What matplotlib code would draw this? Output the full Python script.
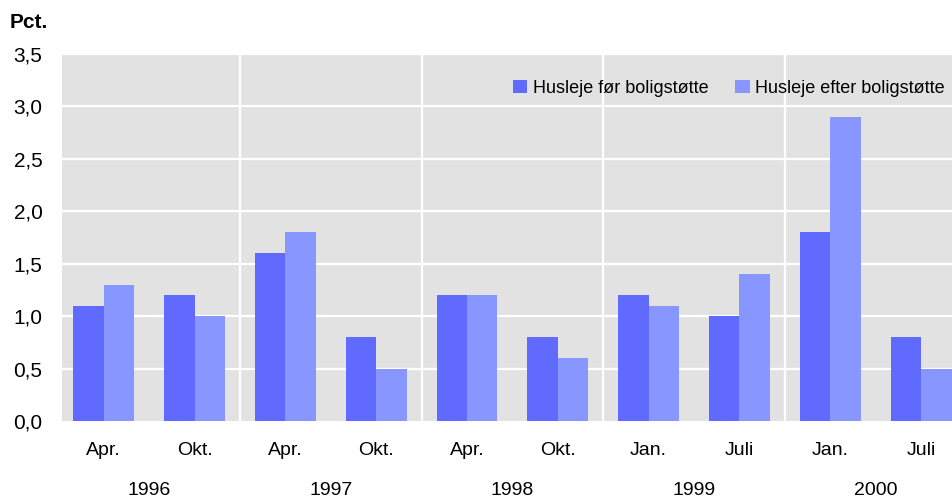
import matplotlib
matplotlib.use("Agg")
import matplotlib.pyplot as plt
import matplotlib.transforms as mtransforms
import numpy as np

plt.rcParams['font.family'] = ['Liberation Sans Narrow', 'Liberation Sans', 'DejaVu Sans']

months = ["Apr.", "Okt.", "Apr.", "Okt.", "Apr.", "Okt.", "Jan.", "Juli", "Jan.", "Juli"]
years = ["1996", "1997", "1998", "1999", "2000"]
foer = [1.1, 1.2, 1.6, 0.8, 1.2, 0.8, 1.2, 1.0, 1.8, 0.8]
efter = [1.3, 1.0, 1.8, 0.5, 1.2, 0.6, 1.1, 1.4, 2.9, 0.5]
yticks = [0.0, 0.5, 1.0, 1.5, 2.0, 2.5, 3.0, 3.5]

c_dark = "#606aff"
c_light = "#8896ff"

fig = plt.figure(figsize=(9.52, 5.0), dpi=100)
ax = fig.add_axes([62 / 952, 79 / 500, 890 / 952, 367 / 500])
ax.set_facecolor("#e2e2e2")

x = np.arange(len(months))
w = 0.335
ax.bar(x - w / 2, foer, w, color=c_dark, label="Husleje før boligstøtte", zorder=3)
ax.bar(x + w / 2, efter, w, color=c_light, label="Husleje efter boligstøtte", zorder=3)

ax.set_ylim(0, 3.5)
ax.set_xlim(-0.46, 9.34)
ax.set_yticks(yticks)
ax.set_yticklabels([("%.1f" % v).replace(".", ",") for v in yticks], fontsize=15)
ax.set_xticks([])
ax.tick_params(axis="y", length=0, pad=14)
for v in yticks[1:]:
    ax.axhline(v, color="white", lw=1.6, zorder=1)
for sep in [1.5, 3.5, 5.5, 7.5]:
    ax.axvline(sep, color="white", lw=1.6, zorder=1)
for s in ax.spines.values():
    s.set_visible(False)

# måneds- og årstekster under aksen
trans = mtransforms.blended_transform_factory(ax.transData, ax.transAxes)
for i, m in enumerate(months):
    ax.text(i, -0.08, m, transform=trans, ha="center", va="center", fontsize=14)
for j, yr in enumerate(years):
    ax.text(2 * j + 0.5, -0.19, yr, transform=trans, ha="center", va="center", fontsize=14)

fig.text(10 / 952, 1 - 23 / 500, "Pct.", fontsize=15, fontweight="bold", va="center", ha="left")

ax.legend(loc="upper right", bbox_to_anchor=(1.0, 0.95), ncol=2, frameon=False, fontsize=13,
          handlelength=0.8, handleheight=0.8, handletextpad=0.3, columnspacing=1.5, borderaxespad=0)

fig.savefig("out.png", dpi=100)
